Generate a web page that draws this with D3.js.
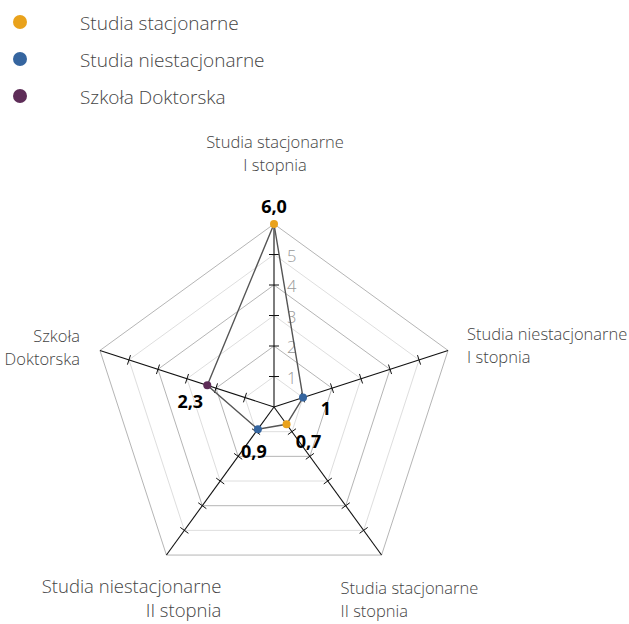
<!DOCTYPE html>
<html><head><meta charset="utf-8">
<script src="https://cdn.jsdelivr.net/npm/d3@7"></script>
<style>
body{margin:0;background:#fff;}
svg{display:block;font-family:"Source Sans Pro","Open Sans","Noto Sans",sans-serif;}
</style></head>
<body><svg id="chart" width="629" height="624"></svg>
<script>
const axes = [
  ["Studia stacjonarne","I stopnia"],
  ["Studia niestacjonarne","I stopnia"],
  ["Studia stacjonarne","II stopnia"],
  ["Studia niestacjonarne","II stopnia"],
  ["Szkoła","Doktorska"]
];
const values = [6.0, 1, 0.7, 0.9, 2.3];
const valueLabels = ["6,0","1","0,7","0,9","2,3"];
const pointSeries = [0, 1, 0, 1, 2];
const seriesNames = ["Studia stacjonarne","Studia niestacjonarne","Szkoła Doktorska"];
const seriesColors = ["#E9A21C","#35659F","#5E2D58"];
const gridLevels = [1,2,3,4,5,6];
const tickLabels = [1,2,3,4,5];

const svg = d3.select("#chart");
const cx = 274, cy = 407, R = 183;
const r = d3.scaleLinear().domain([0,6]).range([0,R]);
const n = axes.length;
const ang = i => -Math.PI/2 + i*2*Math.PI/n;
const pt = (i, v) => [cx + r(v)*Math.cos(ang(i)), cy + r(v)*Math.sin(ang(i))];

// grid
gridLevels.forEach(l => {
  svg.append("polygon")
    .attr("points", d3.range(n).map(i => pt(i,l).join(",")).join(" "))
    .attr("fill","none")
    .attr("stroke", l%2===0 ? "#b5b5b5" : "#dedede")
    .attr("stroke-width",1);
});

// axes
d3.range(n).forEach(i => {
  const [x2,y2] = pt(i,6);
  svg.append("line").attr("x1",cx).attr("y1",cy).attr("x2",x2).attr("y2",y2)
    .attr("stroke","#111").attr("stroke-width",1.1);
  const a = ang(i), px = -Math.sin(a), py = Math.cos(a);
  tickLabels.forEach(l => {
    const [x,y] = pt(i,l);
    svg.append("line").attr("x1",x-px*5).attr("y1",y-py*5).attr("x2",x+px*5).attr("y2",y+py*5)
      .attr("stroke","#111").attr("stroke-width",1);
  });
});

// tick labels on first axis
tickLabels.forEach(l => {
  const [x,y] = pt(0,l);
  svg.append("text").attr("x",x+13).attr("y",y+7).text(l)
    .attr("font-size",16.5).attr("font-weight",300).attr("fill","#999");
});

// axis labels
const axisLabelPos = [
  {dx:1, dy:-76, anchor:"middle", size:16.5, lh:23},
  {dx:19, dy:-10, anchor:"start", size:16.5, lh:23},
  {dx:-41, dy:39, anchor:"start", size:16.5, lh:23},
  {dx:55, dy:38, anchor:"end", size:18.5, lh:24},
  {dx:-20, dy:-8, anchor:"end", size:16.5, lh:23}
];
axes.forEach((lines,i) => {
  const [x,y] = pt(i,6);
  const p = axisLabelPos[i];
  const t = svg.append("text").attr("text-anchor",p.anchor)
    .attr("font-size",p.size).attr("font-weight",300).attr("fill","#444");
  lines.forEach((s,k) => t.append("tspan").attr("x",x+p.dx).attr("y",y+p.dy+k*p.lh).text(s));
});

// data polygon
svg.append("polygon")
  .attr("points", values.map((v,i)=>pt(i,v).join(",")).join(" "))
  .attr("fill","none").attr("stroke","#555").attr("stroke-width",1.4);

values.forEach((v,i) => {
  const [x,y] = pt(i,v);
  svg.append("circle").attr("cx",x).attr("cy",y).attr("r",4)
    .attr("fill",seriesColors[pointSeries[i]]);
});

const labelOffsets = [[0,-11],[23,17],[22,24],[-4,29],[-17,23]];
values.forEach((v,i) => {
  const [x,y] = pt(i,v);
  svg.append("text").attr("x",x+labelOffsets[i][0]).attr("y",y+labelOffsets[i][1])
    .attr("text-anchor","middle").attr("font-size",18).attr("font-weight",700)
    .attr("fill","#000").text(valueLabels[i]);
});

// legend
seriesNames.forEach((s,k) => {
  const y = 22 + k*37;
  svg.append("circle").attr("cx",20).attr("cy",y).attr("r",7).attr("fill",seriesColors[k]);
  svg.append("text").attr("x",80).attr("y",y+8).text(s)
    .attr("font-size",19).attr("font-weight",300).attr("fill","#444");
});
</script></body></html>
